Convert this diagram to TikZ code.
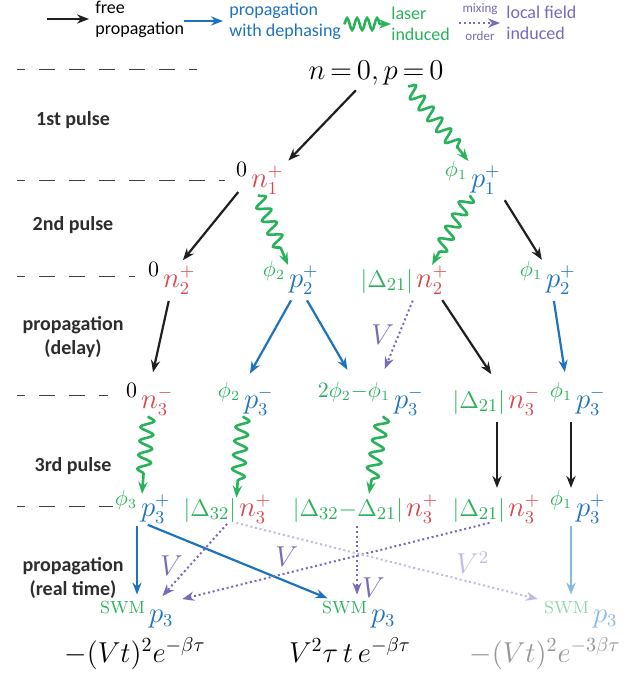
\documentclass[tikz,border=0pt]{standalone}
\usepackage{fontspec}
\newfontfamily\carlito{Carlito}
\usetikzlibrary{arrows.meta,decorations.pathmorphing}
\definecolor{nred}{RGB}{218,70,74}
\definecolor{pblue}{RGB}{30,115,190}
\definecolor{phgreen}{RGB}{40,178,90}
\definecolor{vpurple}{RGB}{122,104,184}
\definecolor{lblue}{RGB}{135,185,225}
\definecolor{lpurple}{RGB}{195,186,225}
\definecolor{lgreen}{RGB}{140,215,165}
\definecolor{lgray}{RGB}{150,150,150}
\definecolor{labgray}{RGB}{45,45,45}
\newcommand\rowsize{\fontsize{13.5}{16}\selectfont}
\newcommand\abssize{\fontsize{12.5}{15}\selectfont}
\newcommand\tagsize{\fontsize{15}{18}\selectfont}
\newcommand\topsize{\fontsize{14.5}{17}\selectfont}
\newcommand\expsize{\fontsize{14}{17}\selectfont}

\begin{document}
\begin{tikzpicture}[x=0.5pt,y=-0.5pt,
  nsym/.style={anchor=base west,inner sep=0.3pt,font=\rowsize,text=nred},
  psym/.style={nsym,text=pblue},
  phtag/.style={anchor=base east,inner sep=0pt,xshift=-0.8pt,font=\tagsize,text=phgreen},
  zerotag/.style={phtag,text=black},
  abstag/.style={phtag,font=\abssize},
  rowline/.style={black!75,line width=0.5pt,dash pattern=on 8pt off 7pt,dash phase=4pt},
  stagelabel/.style={font=\carlito\bfseries\fontsize{10}{12}\selectfont,text=labgray,align=center},
  legendtext/.style={font=\carlito\fontsize{9}{10.5}\selectfont,align=left,anchor=west,inner sep=0pt},
  arrowtip/.style={-{Stealth[length=6pt,width=4.6pt,inset=2pt]}},
  freeprop/.style={arrowtip,line width=1.1pt,black!88,shorten <=3pt,shorten >=3pt},
  dephprop/.style={freeprop,pblue},
  laserind/.style={arrowtip,line width=1.3pt,phgreen,decorate,
    decoration={snake,segment length=7pt,amplitude=3.3pt,post length=7pt}},
  localind/.style={arrowtip,line width=1pt,vpurple,dash pattern=on 1pt off 1.4pt,
    shorten <=3pt,shorten >=3pt},
  vlabel/.style={font=\rowsize,text=vpurple,inner sep=1pt}]
\useasboundingbox (0,0) rectangle (641,675);

% legend
\coordinate (lfreestart) at (47,19);
\node[legendtext] (lfree) at (95,19) {free\\propagation};
\draw[freeprop,line width=1.4pt,shorten <=0pt] (lfreestart) -- (lfree.west);
\coordinate (ldephstart) at (184,21);
\node[legendtext,text=pblue] (ldeph) at (229,21) {propagation\\with dephasing};
\draw[dephprop,line width=1.4pt,shorten <=0pt] (ldephstart) -- (ldeph.west);
\coordinate (llaserstart) at (344,24);
\node[legendtext,text=phgreen] (llaser) at (391,24) {laser\\induced};
\draw[laserind,decoration={snake,segment length=5pt,amplitude=3pt,post length=5pt}]
  (llaserstart) -- (llaser.west);
\coordinate (llocalstart) at (459,23);
\node[legendtext,text=vpurple] (llocal) at (506,23) {local field\\induced};
\draw[localind,shorten <=0pt] (llocalstart) -- (llocal.west);
\node[font=\carlito\fontsize{6.5}{7}\selectfont,text=vpurple,inner sep=0pt] (lmix) at (480,9) {mixing};
\node[font=\carlito\fontsize{6.5}{7}\selectfont,text=vpurple,inner sep=0pt] (lorder) at (480,36) {order};

% rows
\foreach \y/\xend in {69/197,180/225,276/135,395/108,506/113}
  \draw[rowline] (17,\y) -- (\xend,\y);

\node[stagelabel] (pulse1) at (73,120) {1st pulse};
\node[stagelabel] (pulse2) at (73,225) {2nd pulse};
\node[stagelabel] (delay) at (73,337) {propagation\\(delay)};
\node[stagelabel] (pulse3) at (73,466) {3rd pulse};
\node[stagelabel] (realtime) at (73,578) {propagation\\(real time)};

\node[anchor=base,inner sep=0.5pt,font=\topsize] (start) at (376,79)
  {$\thickmuskip=3mu n=0, p=0$};

\node[nsym] (n1) at (250,187) {$n_1^+$};
\node[zerotag] (n1tag) at (n1.base west) {${}^{0}$};
\node[psym] (p1) at (470,187) {$p_1^+$};
\node[phtag] (p1tag) at (p1.base west) {${}^{\phi_1}$};

\node[nsym] (n2a) at (162,287) {$n_2^+$};
\node[zerotag] (n2atag) at (n2a.base west) {${}^{0}$};
\node[psym] (p2a) at (288,287) {$p_2^+$};
\node[phtag] (p2atag) at (p2a.base west) {${}^{\phi_2}$};
\node[nsym] (n2b) at (415,287) {$n_2^+$};
\node[abstag] (n2btag) at (n2b.base west) {$|\Delta_{21}|$};
\node[psym] (p2b) at (545,287) {$p_2^+$};
\node[phtag] (p2btag) at (p2b.base west) {${}^{\phi_1}$};

\node[nsym] (n3a) at (140,408) {$n_3^-$};
\node[zerotag] (n3atag) at (n3a.base west) {${}^{0}$};
\node[psym] (p3a) at (243,408) {$p_3^-$};
\node[phtag] (p3atag) at (p3a.base west) {${}^{\phi_2}$};
\node[psym] (p3b) at (393,408) {$p_3^-$};
\node[phtag] (p3btag) at (p3b.base west) {${}^{2\phi_2-\phi_1}$};
\node[nsym] (n3b) at (507,408) {$n_3^-$};
\node[abstag] (n3btag) at (n3b.base west) {$|\Delta_{21}|$};
\node[psym] (p3c) at (575,408) {$p_3^-$};
\node[phtag] (p3ctag) at (p3c.base west) {${}^{\phi_1}$};

\node[psym] (p4a) at (140,516) {$p_3^+$};
\node[phtag] (p4atag) at (p4a.base west) {${}^{\phi_3}$};
\node[nsym] (n4a) at (238,516) {$n_3^+$};
\node[abstag] (n4atag) at (n4a.base west) {$|\Delta_{32}|$};
\node[nsym] (n4b) at (405,516) {$n_3^+$};
\node[abstag] (n4btag) at (n4b.base west) {$|\Delta_{32}{-}\Delta_{21}|$};
\node[nsym] (n4c) at (507,516) {$n_3^+$};
\node[abstag] (n4ctag) at (n4c.base west) {$|\Delta_{21}|$};
\node[psym] (p4b) at (575,516) {$p_3^+$};
\node[phtag] (p4btag) at (p4b.base west) {${}^{\phi_1}$};

\node[psym] (sw1) at (148,622) {$p_3$};
\node[abstag] (sw1tag) at (sw1.base west) {${}^{\mathrm{SWM}}$};
\node[psym] (sw2) at (370,622) {$p_3$};
\node[abstag] (sw2tag) at (sw2.base west) {${}^{\mathrm{SWM}}$};
\node[psym,text=lblue] (sw3) at (592,622) {$p_3$};
\node[abstag,text=lgreen] (sw3tag) at (sw3.base west) {${}^{\mathrm{SWM}}$};

\node[anchor=base,font=\expsize] (res1) at (135,662) {$-(Vt)^2e^{-\beta\tau}$};
\node[anchor=base,font=\expsize] (res2) at (350,662) {$V^2\tau\,t\,e^{-\beta\tau}$};
\node[anchor=base,font=\expsize,text=lgray] (res3) at (545,662) {$-(Vt)^2e^{-3\beta\tau}$};

% 1st pulse
\draw[freeprop] ([xshift=-8pt]start.south) -- (n1.north east);
\draw[laserind] ([xshift=16pt]start.south) -- (p1tag.north east);
% 2nd pulse
\draw[freeprop] (n1tag.south) -- (n2a.north);
\draw[laserind] ([xshift=4pt]n1.south west) -- (p2a.north west);
\draw[laserind] (p1.south west) -- (n2b.north);
\draw[freeprop] (p1.south east) -- (p2b.north west);
% delay
\draw[freeprop,shorten >=7pt] ([xshift=4pt]n2a.south west) -- ([xshift=5pt]n3a.north west);
\draw[dephprop,shorten >=7pt] ([xshift=3pt]p2a.south west) -- (p3a.north west);
\draw[dephprop,shorten >=7pt] ([xshift=8pt]p2a.south west) -- (p3btag.north);
\draw[localind,shorten >=7pt] (n2b.south west) -- ([xshift=-6pt]p3btag.north east)
  node[vlabel,pos=0.45,left=1pt] {$V$};
\draw[freeprop,shorten >=7pt] ([xshift=12pt]n2b.south west) -- ([xshift=-4pt]n3b.north west);
\draw[dephprop,shorten >=7pt] ([xshift=4pt]p2b.south west) -- ([xshift=-4pt]p3c.north west);
% 3rd pulse
\draw[laserind] ([xshift=4pt]n3a.south west) -- ([xshift=1pt]p4a.north west);
\draw[laserind] (p3a.south west) -- (n4atag.north east);
\draw[laserind] ([xshift=-5pt]p3b.south west) -- ([xshift=-18pt]n4b.north west);
\draw[freeprop] ([xshift=-5pt]n3b.south west) -- ([xshift=-5pt]n4c.north west);
\draw[freeprop] ([xshift=-2pt]p3c.south west) -- ([xshift=-2pt]p4b.north west);
% real time
\draw[dephprop,shorten <=1pt] ([xshift=-1.5pt]p4a.south west) -- ([xshift=-1.5pt]p4a.south west |- sw1tag.north);
\draw[dephprop,shorten <=1pt] ([xshift=3pt]p4a.south west) -- ([xshift=-6pt]sw2tag.north);
\draw[localind,shorten <=1pt] ([xshift=-4pt]n4atag.south east) -- ([xshift=6pt]sw1tag.north east)
  node[vlabel,pos=0.55,left=2pt] {$V$};
\draw[localind,shorten <=1pt] ([xshift=-7pt]n4ctag.south east) -- ([xshift=15pt]sw1tag.north east)
  node[vlabel,pos=0.65,above=2pt] {$V$};
\draw[localind,shorten <=1pt] ([xshift=-24pt]n4b.south west) -- ([xshift=-24pt]n4b.south west |- sw2tag.north)
  node[vlabel,pos=0.83,right=1pt] {$V$};
\draw[localind,lpurple,shorten <=1pt] ([xshift=-1pt]n4atag.south east) -- (sw3tag.north west)
  node[vlabel,text=lpurple,pos=0.77,above=3pt] {$V^2$};
\draw[dephprop,lblue,shorten <=1pt] ([xshift=-2pt]p4b.south west) -- ([xshift=-2pt]p4b.south west |- sw3tag.north);
\end{tikzpicture}
\end{document}
